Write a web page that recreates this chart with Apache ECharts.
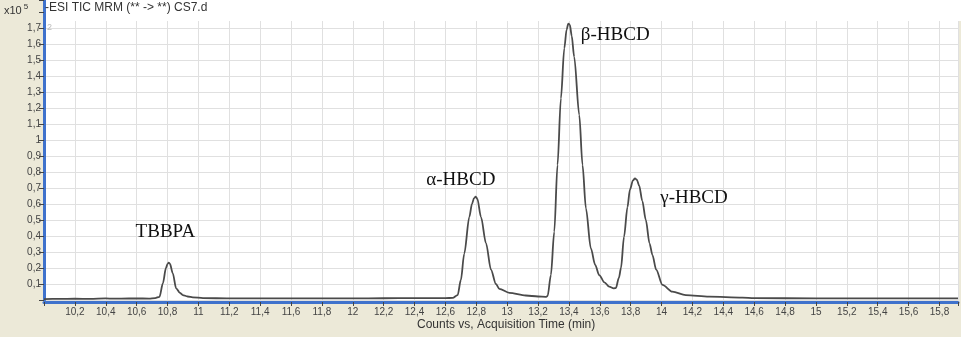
<!DOCTYPE html>
<html>
<head>
<meta charset="utf-8">
<script src="https://cdn.jsdelivr.net/npm/echarts@6/dist/echarts.min.js"></script>
<style>
html,body{margin:0;padding:0;background:#ECE9D8;}
#c{width:961px;height:337px;}
</style>
</head>
<body>
<div id="c"></div>
<script>
// Retention time (min)
const times = [
  10.00, 10.10, 10.20, 10.30, 10.40, 10.45, 10.50, 10.60, 10.68, 10.72,
  10.748, 10.77, 10.79, 10.80, 10.808, 10.816, 10.834, 10.856, 10.88, 10.899,
  10.93, 10.964, 11.03, 11.2, 11.4, 11.6, 11.8, 12.0, 12.2, 12.4,
  12.6, 12.647, 12.679, 12.70, 12.722, 12.755, 12.772, 12.785, 12.796, 12.807,
  12.83, 12.863, 12.895, 12.927, 12.949, 13.014, 13.12, 13.20, 13.25, 13.262,
  13.283, 13.305, 13.326, 13.348, 13.37, 13.385, 13.396, 13.406, 13.418, 13.434,
  13.467, 13.488, 13.51, 13.542, 13.57, 13.596, 13.63, 13.661, 13.69, 13.704,
  13.724, 13.737, 13.757, 13.779, 13.795, 13.815, 13.828, 13.84, 13.855, 13.875,
  13.898, 13.922, 13.941, 13.965, 14.006, 14.07, 14.157, 14.308, 14.524, 14.6,
  15.0, 15.4, 15.92
];
// Counts (x10^5)
const counts = [
  0.006, 0.007, 0.008, 0.007, 0.010, 0.008, 0.009, 0.010, 0.009, 0.012,
  0.020, 0.104, 0.200, 0.226, 0.233, 0.225, 0.167, 0.073, 0.045, 0.031,
  0.022, 0.017, 0.012, 0.010, 0.010, 0.010, 0.010, 0.010, 0.011, 0.012,
  0.012, 0.013, 0.030, 0.125, 0.290, 0.520, 0.600, 0.636, 0.646, 0.632,
  0.520, 0.354, 0.190, 0.100, 0.070, 0.045, 0.028, 0.022, 0.020, 0.025,
  0.156, 0.427, 0.844, 1.260, 1.573, 1.690, 1.727, 1.720, 1.650, 1.520,
  1.156, 0.844, 0.573, 0.323, 0.220, 0.156, 0.110, 0.083, 0.073, 0.075,
  0.140, 0.200, 0.396, 0.580, 0.690, 0.748, 0.760, 0.752, 0.715, 0.620,
  0.500, 0.354, 0.281, 0.190, 0.094, 0.052, 0.031, 0.021, 0.015, 0.012,
  0.010, 0.010, 0.010
];
// Peak annotation names and their anchor points (time, counts)
const peakNames = ['TBBPA', 'α-HBCD', 'β-HBCD', 'γ-HBCD'];
const peakLabelAt = [[10.786, 0.425], [12.70, 0.75], [13.70, 1.656], [14.21, 0.6375]];

const titleText = '-ESI TIC MRM (** -> **) CS7.d';
const xAxisTitle = 'Counts vs, Acquisition Time (min)';

const fmt = (v) => {
  const r = Math.round(v * 10) / 10;
  const s = Number.isInteger(r) ? String(r) : r.toFixed(1);
  return s.replace('.', ',');
};

const chart = echarts.init(document.getElementById('c'), null, {renderer: 'canvas'});
const lineData = times.map((t, i) => [t, counts[i]]);

chart.setOption({
  backgroundColor: '#ECE9D8',
  animation: false,
  grid: {left: 44, right: 2, top: 0, bottom: 37, show: true, backgroundColor: '#ffffff', borderWidth: 0},
  xAxis: {
    type: 'value', min: 10, max: 15.92, interval: 0.2, offset: 2,
    axisLine: {show: true, onZero: false, lineStyle: {color: '#3f72cc', width: 3}},
    axisTick: {show: true, length: 4, lineStyle: {color: '#444'}},
    axisLabel: {
      color: '#444', fontSize: 10, fontFamily: 'Liberation Sans, Arial, sans-serif', margin: 5,
      formatter: v => (v < 10.1 || v > 15.85) ? '' : fmt(v)
    },
    splitLine: {show: true, lineStyle: {color: '#e0e0e0', width: 1}}
  },
  yAxis: {
    type: 'value', min: 0, max: 1.875, interval: 0.1,
    axisLine: {show: true, lineStyle: {color: '#3f72cc', width: 3}},
    axisTick: {show: true, length: 5, lineStyle: {color: '#444'}},
    axisLabel: {
      color: '#444', fontSize: 10, fontFamily: 'Liberation Sans, Arial, sans-serif', margin: 3,
      formatter: v => (v < 0.05 || v > 1.75) ? '' : fmt(v)
    },
    splitLine: {show: true, lineStyle: {color: '#e0e0e0', width: 1}}
  },
  series: [{
    type: 'line',
    data: lineData,
    showSymbol: false,
    smooth: 0.3,
    smoothMonotone: 'x',
    lineStyle: {color: '#4a4a4a', width: 1.8},
    z: 3,
    markPoint: {
      symbol: 'circle', symbolSize: 0, silent: true,
      label: {show: true, position: 'inside', color: '#111',
        fontFamily: 'Liberation Serif, Times New Roman, serif', fontSize: 19,
        formatter: p => p.name},
      data: peakNames.map((n, i) => ({name: n, coord: peakLabelAt[i]}))
    }
  }],
  graphic: [
    {type: 'rect', z: 5, shape: {x: 46, y: 0, width: 915, height: 21}, style: {fill: '#ffffff'}},
    {type: 'text', z: 10, left: 45, top: 2,
      style: {text: titleText, fill: '#333', font: '12px Liberation Sans, Arial, sans-serif'}},
    {type: 'text', z: 10, left: 4, top: 3,
      style: {text: '{a|x10}{b|5}', rich: {
        a: {fill: '#333', font: '11px Liberation Sans, Arial, sans-serif', verticalAlign: 'bottom'},
        b: {fill: '#333', font: '8px Liberation Sans, Arial, sans-serif', verticalAlign: 'top', padding: [0,0,5,2]}
      }}},
    {type: 'text', z: 10, left: 47, top: 23,
      style: {text: '2', fill: '#bbb', font: '9px Liberation Sans, Arial, sans-serif'}},
    {type: 'text', z: 10, left: 417, top: 319,
      style: {text: xAxisTitle, fill: '#333', font: '12px Liberation Sans, Arial, sans-serif'}}
  ]
});
</script>
</body>
</html>
